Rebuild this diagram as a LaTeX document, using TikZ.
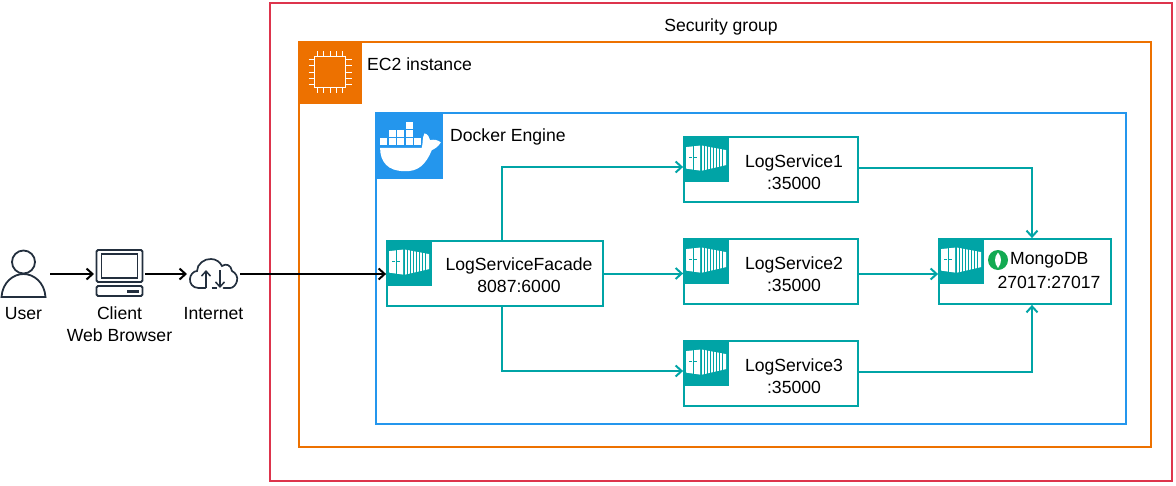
\documentclass[tikz,border=0pt]{standalone}
\usepackage{fontspec}
\setmainfont{Liberation Sans}
\usetikzlibrary{arrows.meta, positioning}
\definecolor{secred}{HTML}{DD344C}
\definecolor{ecorange}{HTML}{ED7100}
\definecolor{dockblue}{HTML}{2496ED}
\definecolor{boxteal}{HTML}{00A4A6}
\definecolor{icondark}{HTML}{232F3E}
\definecolor{mongogreen}{HTML}{13AA52}
\tikzset{
  usericon/.pic={
    \draw[icondark,line width=1.8pt] (0,-12) circle (11.5pt);
    \draw[icondark,line width=1.8pt] (-22,23) .. controls (-21,8) and (-10,0) .. (0,0)
      .. controls (10,0) and (21,8) .. (22,23) -- cycle;
  },
  clienticon/.pic={
    \draw[icondark,line width=1.8pt,rounded corners=1.5pt] (-23,-24) rectangle (23,8);
    \draw[icondark,line width=1.4pt] (-18,-20) rectangle (18,4);
    \draw[icondark,line width=1.8pt,rounded corners=1.5pt] (-23,12) rectangle (23,22);
    \fill[icondark] (7,15.5) rectangle (19,18.5);
  },
  cloudicon/.pic={
    \draw[icondark,line width=1.7pt,line cap=round]
      (-8,14) -- (-15,14) .. controls (-21,14) and (-24,9) .. (-23.5,5)
      .. controls (-23.5,1) and (-20,-3) .. (-16.5,-3)
      .. controls (-16.5,-10) and (-9,-15.5) .. (-2.5,-15)
      .. controls (2.5,-15) and (6.5,-12) .. (8.5,-8)
      .. controls (12.5,-11) and (17.5,-9) .. (18.5,-3)
      .. controls (22.5,-1) and (24.5,3) .. (23.5,7)
      .. controls (22.5,11) and (19.5,14) .. (16.5,14) -- (10,14);
    \draw[icondark,line width=1.2pt] (-2,14) -- (3,14);
    \draw[icondark,line width=1.5pt,-{Straight Barb[length=5pt,width=9pt]}] (-7.5,14) -- (-7.5,-4);
    \draw[icondark,line width=1.5pt,-{Straight Barb[length=5pt,width=9pt]}] (6.5,-4) -- (6.5,14);
  },
  ecicon/.pic={
    \fill[ecorange] (0,0) rectangle (64,63);
    \begin{scope}[shift={(1,1)}]
    \draw[white,line width=1.2pt] (15.5,14.7) rectangle (46.7,45.3);
    \foreach \p in {0,...,4}{
      \draw[white,line width=1.1pt] (18.5+6.25*\p,9) -- (18.5+6.25*\p,14.7);
      \draw[white,line width=1.1pt] (18.5+6.25*\p,45.3) -- (18.5+6.25*\p,51);
      \draw[white,line width=1.1pt] (9.5,17.5+6.25*\p) -- (15.5,17.5+6.25*\p);
      \draw[white,line width=1.1pt] (46.7,17.5+6.25*\p) -- (52.5,17.5+6.25*\p);
    }
    \end{scope}
  },
  dockicon/.pic={
    \fill[dockblue] (0,0) rectangle (68,67);
    \begin{scope}[shift={(1,1)}]
    \foreach \p in {4,12.7,21.3,29.7,38.3}{
      \fill[white] (\p,25.3) rectangle +(7,7);
    }
    \foreach \p in {12.7,21.3,29.7}{
      \fill[white] (\p,17) rectangle +(7,7);
    }
    \fill[white] (29.7,8.7) rectangle +(7,7);
    \fill[white] (4,34.7) -- (45.7,34.7) .. controls (47,30) and (46,25) .. (48.3,20.3)
      .. controls (52,21) and (53,24) .. (54,27) .. controls (58,26) and (62,27) .. (64.7,29.3)
      .. controls (62,34) and (58,36) .. (55.7,37) .. controls (50,51) and (42,59) .. (28,58)
      .. controls (12,58) and (4,49) .. (4,34.7) -- cycle;
    \end{scope}
  },
  boxicon/.pic={
    \fill[boxteal] (0,0) rectangle (46,46);
    \fill[white] (3,11) -- (17,9.5) -- (17,34.5) -- (3,32.5) -- cycle;
    \draw[boxteal,line width=.5pt] (10,10) -- (10,34);
    \draw[boxteal,line width=.8pt] (6,21.5) -- (9,21.5) (11,21.5) -- (14,21.5);
    \fill[white] (19,9.5) -- (43,14) -- (43,29) -- (19,34.5) -- cycle;
    \foreach \p in {21.5,24.5,...,41}{
      \draw[boxteal,line width=.8pt] (\p,8) -- (\p,36);
    }
  },
  leaficon/.pic={
    \fill[mongogreen] (0,0) circle (10pt);
    \fill[white] (0,-7.5) .. controls (4,-3) and (4,3) .. (0,8)
      .. controls (-4,3) and (-4,-3) .. (0,-7.5) -- cycle;
  }
}

\begin{document}
\begin{tikzpicture}[
        x=1pt,y=-1pt,on grid,>={Straight Barb[length=6pt,width=11pt]},
        font=\fontsize{17.6}{22}\selectfont,
        groupbox/.style={draw,line width=1.8pt,inner sep=0pt},
        servicebox/.style={draw=boxteal,line width=1.8pt,inner sep=0pt,minimum width=174pt,minimum height=65pt},
        iconbox/.style={inner sep=0pt,outer sep=3pt,minimum height=46pt},
        caption/.style={align=center,inner sep=0pt},
        link/.style={->,boxteal,line width=2pt},
        blacklink/.style={->,black,line width=2pt}
        ]
        \useasboundingbox (0,0) rectangle (1176,485);

        \node[groupbox,draw=secred,minimum width=902pt,minimum height=478pt]   (sgroup) at (721,242)   {};
        \node[groupbox,draw=ecorange,minimum width=852pt,minimum height=405pt] (ec2)    at (725,244.5) {};
        \node[groupbox,draw=dockblue,minimum width=750pt,minimum height=311pt] (engine) at (751,268.5) {};

        \node[servicebox,minimum width=216pt] (facade) at (495,273.5)      {};
        \node[servicebox] (ls2)   [right=276pt of facade,yshift=2pt] {};
        \node[servicebox] (ls1)   [above=102pt of ls2]               {};
        \node[servicebox] (ls3)   [below=102pt of ls2]               {};
        \node[servicebox,minimum width=172pt] (mongo) [right=254pt of ls2] {};

        \node[iconbox,minimum width=47pt] (user)     at (23.5,274)       {};
        \node[iconbox,minimum width=45pt] (client)   [right=96pt of user]   {};
        \node[iconbox,minimum width=47pt] (internet) [right=94pt of client] {};

        \pic at (user.center)     {usericon};
        \pic at (client.center)   {clienticon};
        \pic at (internet.center) {cloudicon};
        \pic at (ec2.north west)    {ecicon};
        \pic at (engine.north west) {dockicon};
        \pic at (facade.north west) {boxicon};
        \pic at (ls1.north west)    {boxicon};
        \pic at (ls2.north west)    {boxicon};
        \pic at (ls3.north west)    {boxicon};
        \pic at (mongo.north west)  {boxicon};
        \pic at (998,260)           {leaficon};

        \node[caption] (usertext)     [below=40pt of user]     {User};
        \node[caption] (clienttext)   [below=50pt of client]   {Client\\Web Browser};
        \node[caption] (internettext) [below=40pt of internet] {Internet};
        \node[caption] (sgrouptext)   at (721,27)              {Security group};
        \node[caption,anchor=west] (ec2text)    at (367,64)    {EC2 instance};
        \node[caption,anchor=west] (enginetext) at (450,137)   {Docker Engine};
        \node[caption] (facadetext) at ([xshift=24pt,yshift=-1.5pt]facade.center) {LogServiceFacade\\8087:6000};
        \node[caption] (ls1text)    at ([xshift=23pt,yshift=-2.5pt]ls1.center)    {LogService1\\:35000};
        \node[caption] (ls2text)    at ([xshift=23pt,yshift=-2.5pt]ls2.center)    {LogService2\\:35000};
        \node[caption] (ls3text)    at ([xshift=23pt,yshift=-2.5pt]ls3.center)    {LogService3\\:35000};
        \node[caption,anchor=west] (mongotext) at (1010,260)   {MongoDB};
        \node[caption] (mongoport) at (1049,282)               {27017:27017};

        \path[blacklink] (user) edge (client)
        (client) edge (internet)
        (internet) edge (internet -| facade.west);

        \draw[link] ([xshift=7pt]facade.north) |- ([yshift=2.5pt]ls1.west);
        \draw[link] (facade.east) -- (facade.east -| ls2.west);
        \draw[link] ([xshift=7pt]facade.south) |- ([yshift=2.5pt]ls3.west);
        \draw[link] ([yshift=1.5pt]ls1.east) -| (mongo.north -| 1032,0);
        \draw[link] ([yshift=-2.5pt]ls2.east) -- ([yshift=-2.5pt]mongo.west);
        \draw[link] ([yshift=1.5pt]ls3.east) -| (mongo.south -| 1032,0);
      \end{tikzpicture}
\end{document}
